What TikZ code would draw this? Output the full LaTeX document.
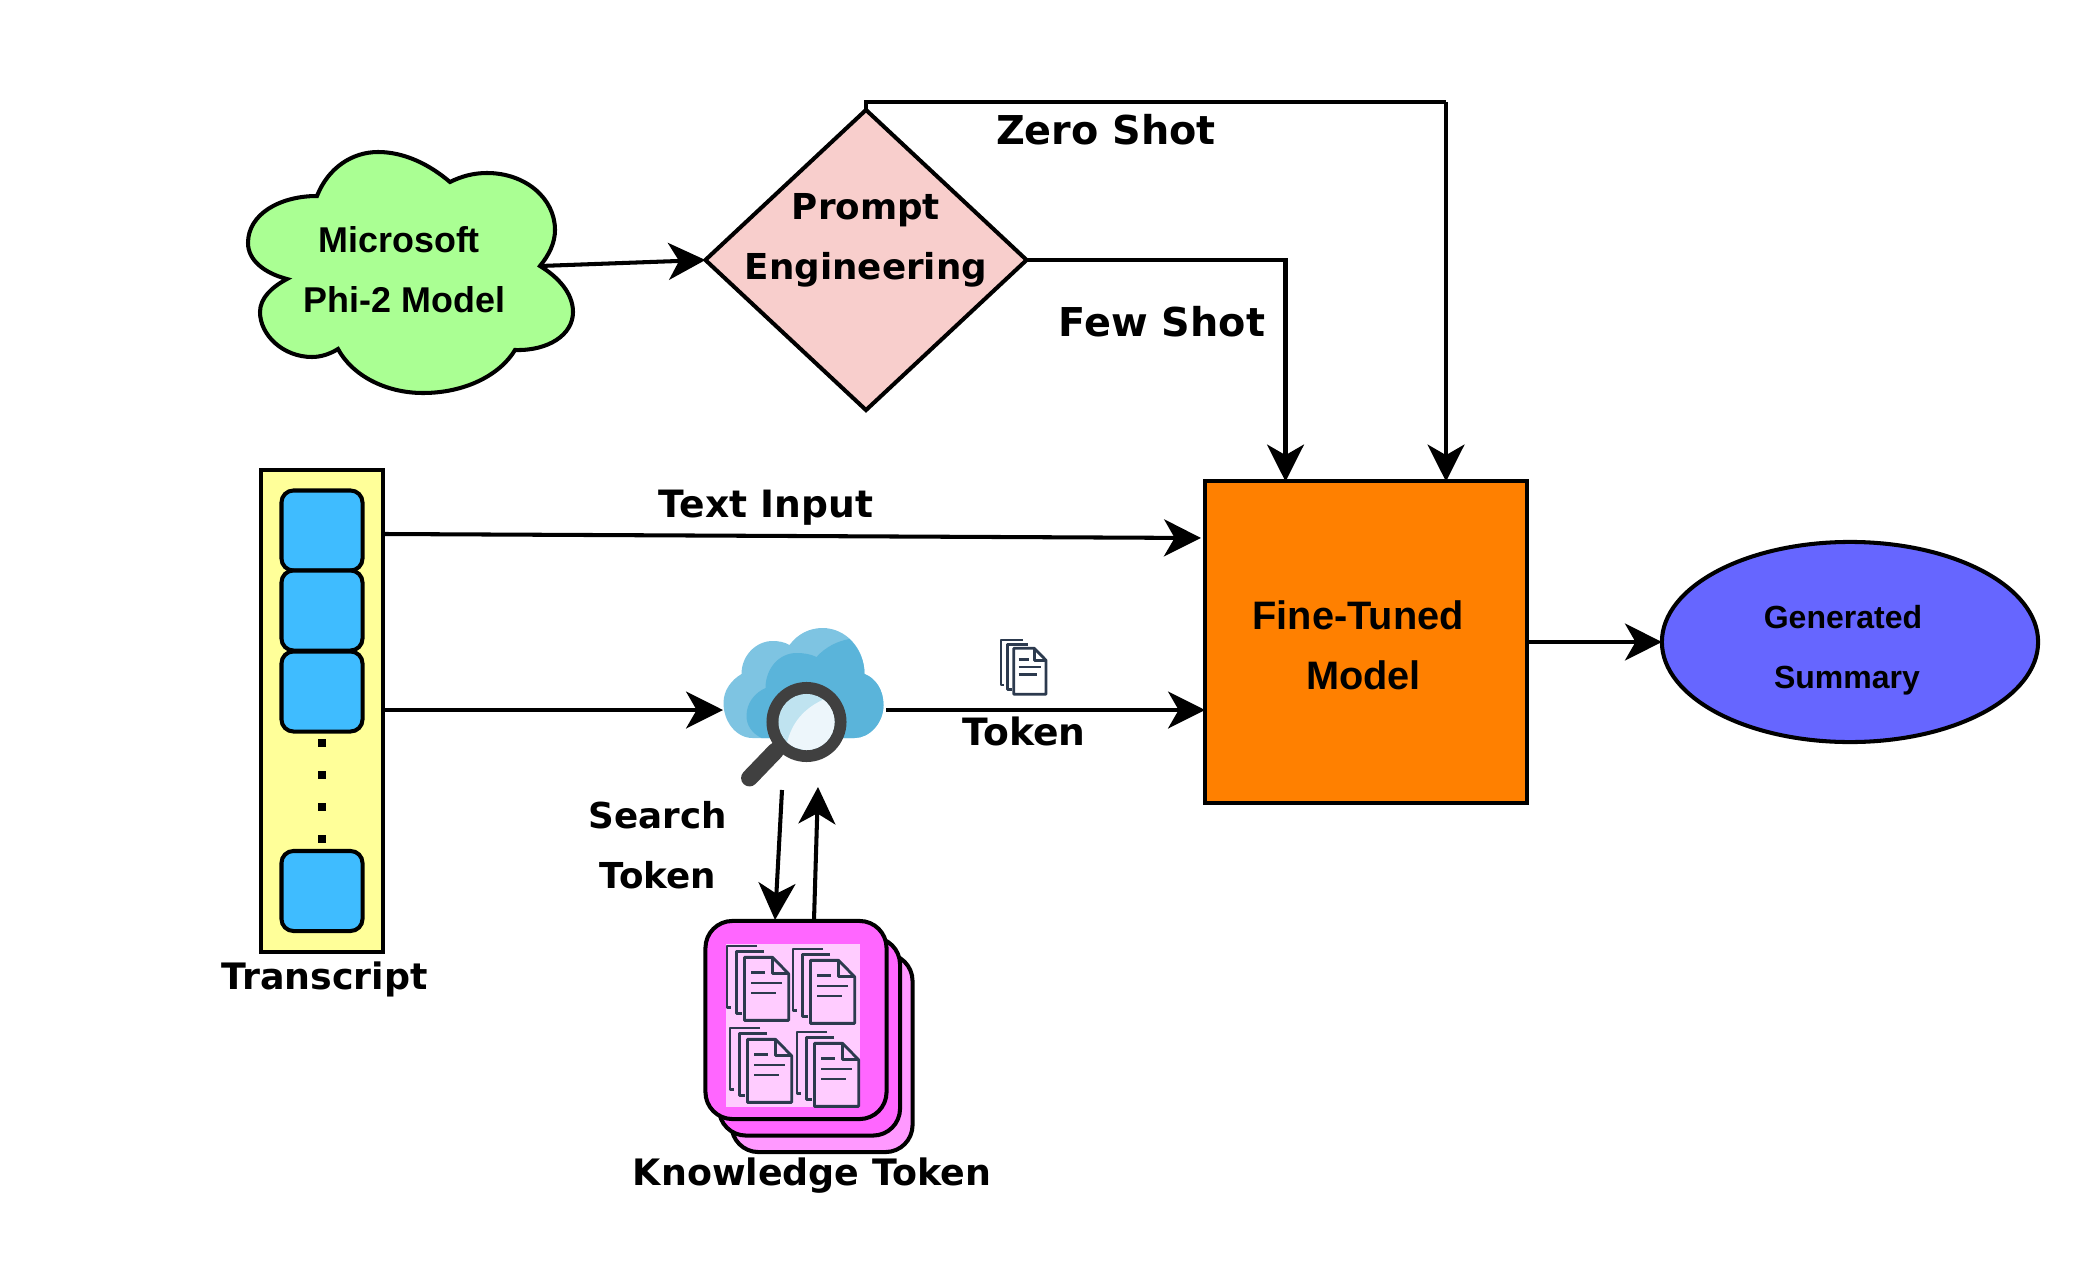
\documentclass[tikz,border=0pt]{standalone}
\usepackage{fontspec}
\setmainfont{DejaVu Sans}
\newfontfamily\liberation{Liberation Sans}
\usetikzlibrary{arrows.meta,shapes.geometric}

\definecolor{cloudgreen}{HTML}{AAFF93}
\definecolor{promptpink}{HTML}{F8CECC}
\definecolor{modelorange}{HTML}{FF8000}
\definecolor{summaryblue}{HTML}{6666FF}
\definecolor{barcream}{HTML}{FFFF99}
\definecolor{blockblue}{HTML}{3FBCFF}
\definecolor{stackfront}{HTML}{FF66FF}
\definecolor{stackback}{HTML}{FF99FF}
\definecolor{stackpanel}{HTML}{FFCCFF}
\definecolor{iconslate}{HTML}{2C3A4E}
\definecolor{skylight}{HTML}{7EC4E2}
\definecolor{skydark}{HTML}{5AB4DA}
\definecolor{lensblue}{HTML}{BFE3F0}
\definecolor{lenspale}{HTML}{EDF6FB}
\definecolor{glassgrey}{HTML}{404040}

\tikzset{
    >={Stealth[length=10.5pt,width=10.5pt,inset=3pt]},
    outline/.style={draw, line width=1.15pt, inner sep=0pt, outer sep=0pt},
    wire/.style={line width=1.15pt},
    tagtext/.style={font=\bfseries\fontsize{10.15}{17}\selectfont, align=center},
    widetext/.style={font=\bfseries\fontsize{10.7}{13}\selectfont},
    stacktext/.style={font=\bfseries\fontsize{10.35}{13}\selectfont},
    shottext/.style={font=\bfseries\fontsize{11.3}{13}\selectfont},
    fineltext/.style={font=\liberation\bfseries\fontsize{11.3}{17}\selectfont, align=center},
    phitext/.style={font=\liberation\bfseries\fontsize{10.2}{17}\selectfont, align=center},
    sumtext/.style={font=\liberation\bfseries\fontsize{9.1}{17}\selectfont, align=center},
    blockbox/.style={outline, fill=blockblue, rounded corners=0.12cm, minimum width=0.81cm, minimum height=0.8cm},
    stackbox/.style={outline, rounded corners=0.27cm, minimum width=1.81cm, minimum height=1.98cm},
    docicon/.pic={
        \begin{scope}[line width=0.8pt, draw=iconslate, line join=round]
            \draw (22, 0) -- (0, 0) -- (0, 45) -- (3, 45);
            \draw (27, 4.3) -- (6.7, 4.3) -- (6.7, 49.3) -- (11, 49.3);
            \draw (12.7, 8.3) -- (33.3, 8.3) -- (45, 20.3) -- (45, 54.3) -- (12.7, 54.3) -- cycle;
            \draw (33.3, 8.3) -- (33.3, 20.3) -- (45, 20.3);
            \draw (17.7, 19.3) -- (27.7, 19.3);
            \draw (17.7, 27) -- (40.3, 27);
            \draw (17.7, 34.3) -- (36, 34.3);
        \end{scope}
    }
}

\begin{document}
\begin{tikzpicture}[x=0.01cm, y=-0.01cm]
    \useasboundingbox (0, 0) rectangle (2100, 1288);

    % cloud with the model name
    \draw [wire, fill=cloudgreen] (317, 196) .. controls (328, 168) and (352, 152) .. (378, 152)
        .. controls (405, 152) and (430, 165) .. (450, 182)
        .. controls (462, 176) and (474, 173) .. (487, 173)
        .. controls (525, 173) and (555, 198) .. (555, 230)
        .. controls (555, 243) and (549, 255) .. (540, 266)
        .. controls (558, 277) and (573, 293) .. (573, 312)
        .. controls (573, 335) and (548, 351) .. (515, 350)
        .. controls (500, 375) and (465, 393) .. (423, 393)
        .. controls (385, 393) and (352, 375) .. (338, 349)
        .. controls (330, 354) and (321, 357) .. (312, 357)
        .. controls (283, 357) and (260, 335) .. (260, 312)
        .. controls (260, 298) and (272, 287) .. (287, 279)
        .. controls (264, 273) and (248, 260) .. (248, 243)
        .. controls (248, 214) and (280, 196) .. (317, 196) -- cycle;
    \coordinate (phiout) at (540, 266);
    \node [phitext] (philabel) at (404.5, 270) {Microsoft\hspace*{3pt}\\Phi-2 Model};

    % prompt and model blocks
    \node [outline, diamond, fill=promptpink, minimum width=3.21cm, minimum height=3cm] (prompt) at (866, 260) {};
    \node [tagtext] (promptlabel) at (866, 240) {Prompt\\Engineering};
    \node [outline, fill=modelorange, minimum width=3.21cm, minimum height=3.21cm] (model) at (1366, 642) {};
    \node [fineltext] (modellabel) at (1363.5, 645) {Fine-Tuned\hspace*{3pt}\\Model};
    \node [outline, ellipse, fill=summaryblue, minimum width=3.76cm, minimum height=2cm] (summary) at (1850, 642) {};
    \node [sumtext] (summarylabel) at (1847, 650.5) {Generated\hspace*{2.3pt}\\Summary};

    % transcript column
    \node [outline, fill=barcream, minimum width=1.21cm, minimum height=4.81cm] (bar) at (322, 711) {};
    \foreach \name/\ypos in {blocka/530.5, blockb/610.5, blockc/691.5, blockd/891}
        \node [blockbox] (\name) at (322, \ypos) {};
    \foreach \ypos in {739, 771, 803, 835}
        \fill (318, \ypos) rectangle ++(8, 8);
    \node [stacktext] (barlabel) at (324.5, 979) {Transcript};

    % knowledge stack
    \node [stackbox, fill=stackback] (stackc) at (822, 1053) {};
    \node [stackbox, fill=stackfront] (stackb) at (809.5, 1036.5) {};
    \node [stackbox, fill=stackfront] (stacka) at (796, 1020) {};
    \fill [stackpanel] (726, 944) rectangle (860, 1107);
    \foreach \xpos/\ypos in {727/946, 793/949, 730/1028, 797/1032}
        \pic [scale=1.37] at (\xpos, \ypos) {docicon};
    \node [stacktext] (stacklabel) at (812, 1176) {Knowledge Token};

    % search cloud and magnifier
    \begin{scope}[shift={(1.5, 2)}]
        \fill [skylight] (722, 701) .. controls (722, 688) and (730, 678) .. (740, 672)
            .. controls (740, 653) and (755, 639) .. (771, 639)
            .. controls (777, 639) and (783, 640) .. (788, 643)
            .. controls (796, 632) and (808, 626) .. (821, 626)
            .. controls (844, 626) and (863, 646) .. (863, 672)
            .. controls (874, 676) and (882, 688) .. (882, 703)
            .. controls (882, 721) and (868, 736) .. (853, 736) -- (751, 736)
            .. controls (735, 736) and (722, 720) .. (722, 701) -- cycle;
        \fill [skydark] (760, 736) .. controls (750, 731) and (745, 723) .. (745, 714)
            .. controls (745, 701) and (753, 691) .. (764, 686)
            .. controls (764, 666) and (778, 651) .. (795, 651)
            .. controls (802, 651) and (809, 652) .. (815, 655)
            .. controls (824, 645) and (836, 639) .. (848, 637)
            .. controls (857, 646) and (863, 658) .. (863, 672)
            .. controls (874, 676) and (882, 688) .. (882, 703)
            .. controls (882, 721) and (868, 736) .. (853, 736) -- cycle;
        \draw [glassgrey, line width=4.8pt, line cap=round] (774, 749) -- (748, 776);
        \fill [glassgrey] (805, 720) circle (0.4cm);
        \fill [lensblue] (805, 720) circle (0.28cm);
        \begin{scope}
            \clip (805, 720) circle (0.28cm);
            \fill [lenspale] (785, 743) .. controls (790, 720) and (803, 706) .. (823, 697) -- (838, 708) -- (838, 758) -- cycle;
        \end{scope}
    \end{scope}

    % token document
    \pic at (1001, 640) {docicon};

    % connector ends
    \coordinate (fewin) at (1285.5, 481.5);
    \coordinate (zeroin) at (1446, 481.5);
    \coordinate (zerotop) at (1446, 102);
    \coordinate (textout) at (385, 534);
    \coordinate (textin) at (1201, 538);
    \coordinate (barout) at (382.5, 710);
    \coordinate (searchin) at (723, 710);
    \coordinate (searchout) at (886, 710);
    \coordinate (tokenin) at (1205, 710);
    \coordinate (downout) at (782, 790);
    \coordinate (downin) at (775, 920);
    \coordinate (upout) at (814, 920);
    \coordinate (upin) at (818, 787);

    \draw [wire, ->] (phiout) -- (prompt.west);
    \draw [wire] (prompt.north) |- (zerotop);
    \draw [wire, ->] (zerotop) -- (zeroin);
    \draw [wire, ->] (prompt.east) -| (fewin);
    \draw [wire, ->] (textout) -- (textin);
    \draw [wire, ->] (barout) -- (searchin);
    \draw [wire, ->] (searchout) -- (tokenin);
    \draw [wire, ->] (downout) -- (downin);
    \draw [wire, ->] (upout) -- (upin);
    \draw [wire, ->] (model.east) -- (summary.west);

    \node [shottext] (zerolabel) at (1106, 130) {Zero Shot};
    \node [shottext] (fewlabel) at (1162, 322) {Few Shot};
    \node [widetext] (textlabel) at (766, 508) {Text Input};
    \node [widetext] (tokenlabel) at (1024, 731) {Token};
    \node [tagtext] (searchlabel) at (658, 845) {Search\\Token};
\end{tikzpicture}
\end{document}
